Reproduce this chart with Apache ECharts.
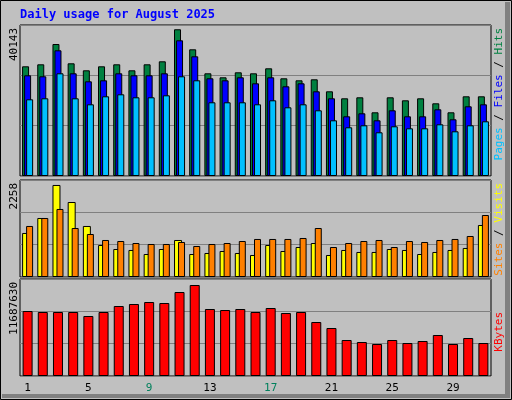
<!DOCTYPE html>
<html><head><meta charset="utf-8">
<script src="https://cdn.jsdelivr.net/npm/echarts@6/dist/echarts.min.js"></script>
<style>html,body{margin:0;padding:0;background:#fff}#c{width:512px;height:400px}</style>
</head><body><div id="c"></div>
<script>
const days = ['1','2','3','4','5','6','7','8','9','10','11','12','13','14','15','16','17','18','19','20','21','22','23','24','25','26','27','28','29','30','31'];
const weekend = ['2','3','9','10','16','17','23','24','30','31'];
const hits = [30014,30561,36115,30835,28920,30014,30561,28920,30561,31382,40143,34665,28099,27004,28373,28099,29467,26731,26184,26457,23174,21259,21532,17428,21532,20712,21259,19891,17428,21806,21806];
const files = [27552,27278,34392,28099,25910,26184,28099,27552,27552,28099,37128,32750,26731,26184,27004,25363,27004,24542,25363,23174,21259,16334,17155,15240,17976,16334,16334,18249,15513,19070,19617];
const pages = [20985,21259,28099,21259,19617,21806,22353,21532,21532,22080,27278,26184,20164,20164,20164,19617,20712,18796,19617,17976,15240,13324,13872,11956,13598,13051,13051,14145,12230,13872,14966];
const visits = [1080,1448,2258,1840,1252,785,687,663,564,687,908,564,589,638,589,540,785,638,736,834,540,663,614,614,687,663,564,614,663,712,1276];
const sites = [1252,1448,1669,1202,1055,908,883,834,810,810,859,761,810,834,883,933,933,933,957,1202,736,834,883,908,736,883,859,908,933,1006,1521];
const kbytes = [8348340,8219904,8219904,8219904,7706160,8219904,8990520,9247392,9504264,9375828,10788624,11687630,8605212,8476776,8605212,8219904,8733648,8091468,8219904,6935544,6164928,4623696,4366824,4109952,4623696,4238388,4495260,5265876,4109952,4880568,4238388];
const maxLabels = ['40143','2258','11687630'];

const F = 'DejaVu Sans Mono, monospace';
const chart = echarts.init(document.getElementById('c'));
const grids = [
  {left:20,right:21,top:25,height:151},
  {left:20,right:21,top:180,height:97},
  {left:20,right:21,top:279,height:97}
].map(g=>Object.assign(g,{show:true,backgroundColor:'#C0C0C0',borderColor:'#000',borderWidth:1}));
const yAx = (i,max)=>({type:'value',gridIndex:i,min:0,max:max,interval:max/3,
  axisLabel:{show:false},axisLine:{show:false},axisTick:{show:false},
  splitLine:{show:true,lineStyle:{color:'#808080',width:1}}});
const xAx = (i,show)=>({type:'category',gridIndex:i,data:days,
  axisLine:{show:false},axisTick:{show:false},
  axisLabel:{show:show,margin:7,fontFamily:F,fontSize:11,
    formatter:v=>weekend.includes(v)?'{w|'+v+'}':'{n|'+v+'}',
    rich:{w:{color:'#00805C',fontFamily:F,fontSize:11},n:{color:'#000',fontFamily:F,fontSize:11}}}});
const bs = {borderColor:'#000',borderWidth:1};
const bar = (name,data,i,color,w,gap)=>({name,type:'bar',xAxisIndex:i,yAxisIndex:i,data,
  barWidth:w,barGap:gap,itemStyle:Object.assign({color},bs),animation:false});
const vtext = (x,y,parts)=>({type:'text',x,y,rotation:Math.PI/2,
  style:{rich:{g:{fill:'#008040'},b:{fill:'#0000FF'},c:{fill:'#00C0FF'},y:{fill:'#FFFF00'},o:{fill:'#FF8000'},r:{fill:'#FF0000'},k:{fill:'#000'}},
  text:parts,font:'11px '+F,align:'right',verticalAlign:'middle'}});
chart.setOption({
  backgroundColor:'#C0C0C0',
  animation:false,
  grid:grids,
  xAxis:[xAx(0,false),xAx(1,false),xAx(2,true)],
  yAxis:[yAx(0,41314),yAx(1,2380),yAx(2,12458292)],
  series:[
    bar('Hits',hits,0,'#008040',7,'-71%'),
    bar('Files',files,0,'#0000FF',7,'-71%'),
    bar('Pages',pages,0,'#00C0FF',7,'-71%'),
    bar('Visits',visits,1,'#FFFF00',8,'-50%'),
    bar('Sites',sites,1,'#FF8000',7,'-50%'),
    bar('KBytes',kbytes,2,'#FF0000',10,'0%')
  ],
  graphic:[
    {type:'rect',shape:{x:0.5,y:0.5,width:511,height:399},style:{fill:'none',stroke:'#000',lineWidth:1},z:-1},
    {type:'rect',shape:{x:505,y:2,width:5,height:396},style:{fill:'#808080'},z:-1},
    {type:'rect',shape:{x:2,y:394,width:508,height:4},style:{fill:'#808080'},z:-1},
    {type:'text',x:20,y:15,style:{text:'Daily usage for August 2025',font:'bold 12px '+F,fill:'#0000FF',verticalAlign:'middle'}},
    {type:'text',x:14,y:28,rotation:Math.PI/2,style:{text:maxLabels[0],font:'11px '+F,fill:'#000',align:'right',verticalAlign:'middle'}},
    {type:'text',x:14,y:183,rotation:Math.PI/2,style:{text:maxLabels[1],font:'11px '+F,fill:'#000',align:'right',verticalAlign:'middle'}},
    {type:'text',x:14,y:282,rotation:Math.PI/2,style:{text:maxLabels[2],font:'11px '+F,fill:'#000',align:'right',verticalAlign:'middle'}},
    vtext(499,28,'{c|Pages}{k| / }{b|Files}{k| / }{g|Hits}'),
    vtext(499,183,'{o|Sites}{k| / }{y|Visits}'),
    vtext(499,312,'{r|KBytes}')
  ]
});
</script></body></html>
